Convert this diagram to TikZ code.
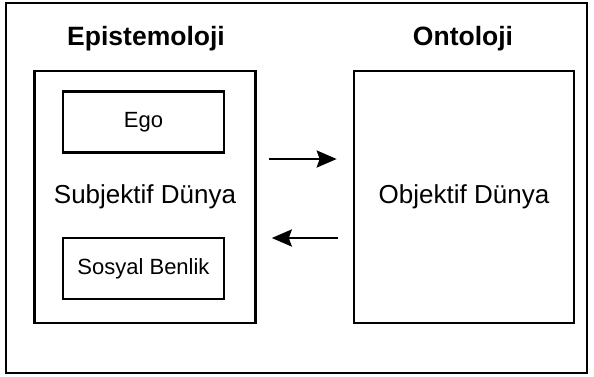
\documentclass[tikz,border=0pt]{standalone}
\usepackage{fontspec}
\setmainfont{Liberation Sans}
\usetikzlibrary{arrows.meta,positioning}

\begin{document}
\begin{tikzpicture}[x=1pt,y=-1pt,
    box/.style={draw, line width=2.6pt, inner sep=0pt},
    world/.style={box, minimum width=221pt, minimum height=252pt, font=\fontsize{26}{30}\selectfont},
    self/.style={box, minimum width=161pt, minimum height=61pt, font=\fontsize{22}{26}\selectfont},
    title/.style={anchor=base, font=\fontsize{26.5}{30}\selectfont\bfseries},
    arr/.style={line width=2.6pt, -{Stealth[length=20pt,width=17pt,inset=3pt]}}]
  \useasboundingbox (0,0) rectangle (594,376);
  \draw[line width=2.4pt] (6,3) rectangle (587,373);
  % left side
  \node[world] (subj) at (145,197) {Subjektif Dünya};
  \node[self] (ego) at (143.5,122) {Ego};
  \node[self] (sosyal) at (143.5,268.5) {Sosyal Benlik};
  \node[title] (epis) at (146,45) {Epistemoloji};
  % right side
  \node[world, minimum width=220pt] (obj) at (464,197) {Objektif Dünya};
  \node[title] (onto) at (463,45) {Ontoloji};
  % arrows
  \draw[arr] ([xshift=12pt,yshift=38pt]subj.east) -- ([xshift=-16pt,yshift=38pt]obj.west);
  \draw[arr] ([xshift=-15pt,yshift=-41pt]obj.west) -- ([xshift=15pt,yshift=-41pt]subj.east);
\end{tikzpicture}
\end{document}
